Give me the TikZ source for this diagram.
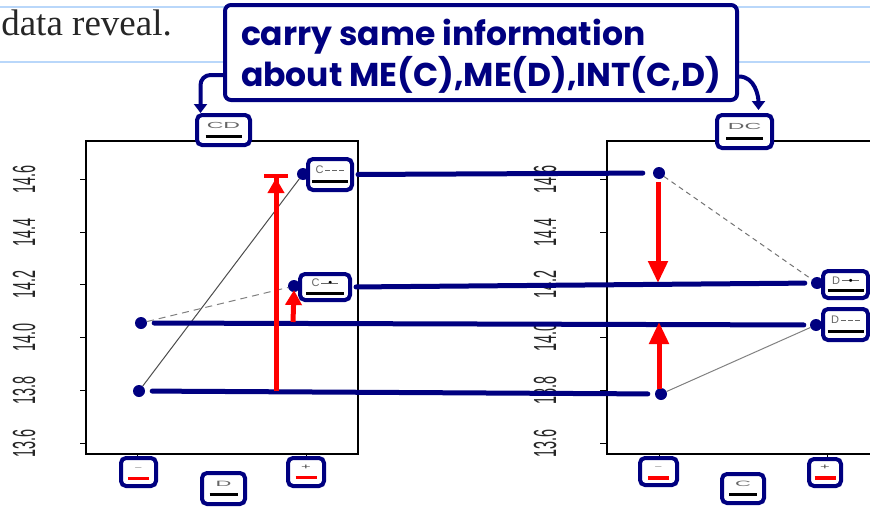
\documentclass[tikz,border=0pt]{standalone}
\usepackage{fontspec}
\setmainfont{Liberation Serif}
\newfontfamily\axisfont{Liberation Sans}
\newfontfamily\handfont{Poppins}
\usetikzlibrary{arrows.meta}
\definecolor{ink}{RGB}{0,0,128}
\definecolor{pen}{RGB}{255,0,0}
\definecolor{ruled}{RGB}{185,215,250}
\tikzstyle{ruling} = [draw=ruled, line width=1.5pt]
\tikzstyle{prose} = [anchor=base east, inner sep=0pt, text=black!85, font=\fontsize{37}{37}\selectfont]
\tikzstyle{frame} = [draw=black, line width=1.2pt]
\tikzstyle{tick} = [draw=black, line width=1pt]
\tikzstyle{ticklabel} = [rotate=90, inner sep=0pt, text=black!85, font=\axisfont\fontsize{32}{32}\selectfont]
\tikzstyle{mean} = [circle, fill=ink, minimum size=12pt, inner sep=0pt]
\tikzstyle{trace} = [draw=black!70, line width=1pt]
\tikzstyle{link} = [draw=ink, line width=5pt, line cap=round]
\tikzstyle{effect} = [draw=pen, line width=5pt, -{Triangle[length=22pt,width=19pt]}]
\tikzstyle{tag} = [draw=ink, line width=4pt, rounded corners=5pt, fill=white, inner sep=0pt,
align=center, font=\axisfont\fontsize{11}{12}\selectfont]
\tikzstyle{note} = [draw=ink, line width=4pt, rounded corners=6pt, fill=white, align=left,
text=ink, minimum width=512pt, minimum height=95pt,
font=\handfont\bfseries\fontsize{33}{41}\selectfont]
\tikzstyle{pointer} = [draw=ink, line width=4pt, -{Triangle[length=9pt,width=13pt]}]

\newcommand{\ticktext}[1]{\scalebox{0.45}[1]{#1}}
\newcommand{\dashsample}{\textcolor{black!60}{\rule[3pt]{5pt}{1pt}\hspace{2pt}\rule[3pt]{5pt}{1pt}\hspace{2pt}\rule[3pt]{5pt}{1pt}}}
\newcommand{\dotsample}{\textcolor{black!60}{\rule[3pt]{8pt}{1pt}}\kern-1pt\textbullet\kern-1pt\textcolor{black!60}{\rule[3pt]{7pt}{1pt}}}
\newcommand{\thickbar}[1]{\rule{#1}{3pt}}
\newcommand{\redbar}{\textcolor{pen}{\rule{21pt}{3.5pt}}}

\begin{document}
\begin{tikzpicture}[x=1pt, y=-1pt]
	\useasboundingbox (0,0) rectangle (870,506);

	\draw [ruling] (0,7) -- (870,7);
	\draw [ruling] (0,62) -- (870,62);
	\node [prose] (prose) at (172,35) {data reveal.};

	% left panel: D on the axis, C as trace
	\draw [frame] (86,141) rectangle (358,454);
	\draw [tick] (80,179) -- (86,179);
	\draw [tick] (80,232) -- (86,232);
	\draw [tick] (80,284) -- (86,284);
	\draw [tick] (80,337) -- (86,337);
	\draw [tick] (80,390) -- (86,390);
	\draw [tick] (80,443) -- (86,443);
	\draw [tick] (137,454) -- (137,459);
	\draw [tick] (306,454) -- (306,459);
	\node [ticklabel] (l146) at (24,179) {\ticktext{14.6}};
	\node [ticklabel] (l144) at (24,232) {\ticktext{14.4}};
	\node [ticklabel] (l142) at (24,284) {\ticktext{14.2}};
	\node [ticklabel] (l140) at (24,337) {\ticktext{14.0}};
	\node [ticklabel] (l138) at (24,390) {\ticktext{13.8}};
	\node [ticklabel] (l136) at (24,443) {\ticktext{13.6}};

	% right panel: C on the axis, D as trace
	\draw [frame] (870,141) -- (607,141) -- (607,454) -- (870,454);
	\draw [tick] (600,179) -- (607,179);
	\draw [tick] (600,232) -- (607,232);
	\draw [tick] (600,284) -- (607,284);
	\draw [tick] (600,337) -- (607,337);
	\draw [tick] (600,390) -- (607,390);
	\draw [tick] (600,443) -- (607,443);
	\draw [tick] (659,454) -- (659,459);
	\draw [tick] (827,454) -- (827,459);
	\node [ticklabel] (r146) at (545,179) {\ticktext{14.6}};
	\node [ticklabel] (r144) at (545,232) {\ticktext{14.4}};
	\node [ticklabel] (r142) at (545,284) {\ticktext{14.2}};
	\node [ticklabel] (r140) at (545,337) {\ticktext{14.0}};
	\node [ticklabel] (r138) at (545,390) {\ticktext{13.8}};
	\node [ticklabel] (r136) at (545,443) {\ticktext{13.6}};

	\node [mean] (l1) at (141,323) {};
	\node [mean] (l2) at (139,391) {};
	\node [mean] (l3) at (303,174) {};
	\node [mean] (l4) at (294,286) {};
	\node [mean] (r1) at (659,173) {};
	\node [mean] (r2) at (661,394) {};
	\node [mean] (r3) at (817,283) {};
	\node [mean] (r4) at (816,325) {};

	\draw [trace] (l2) -- (l3);
	\draw [trace, dash pattern=on 7pt off 5pt, draw=black!50] (l1) -- (l4);
	\draw [trace, dash pattern=on 5pt off 4pt, draw=black!55] (r1) -- (r3);
	\draw [trace, draw=black!50] (r2) -- (r4);

	% legend pieces and level labels
	\node [tag, minimum width=53pt, minimum height=30pt] (cd) at (223.5,130) {\textcolor{black!60}{\scalebox{2.1}[0.8]{CD}}\\[-2pt]\thickbar{36pt}};
	\node [tag, minimum width=55pt, minimum height=33pt] (dc) at (744.5,131.5) {\textcolor{black!60}{\scalebox{2.1}[0.8]{DC}}\\[-2pt]\thickbar{37pt}};
	\node [tag, minimum width=44pt, minimum height=31pt] (cm) at (330,174.5) {\textcolor{black!60}{C}\,\dashsample\\[-3pt]\thickbar{36pt}};
	\node [tag, minimum width=50pt, minimum height=26pt] (cp) at (325,287) {\textcolor{black!60}{C}\,\dotsample\\[-4pt]\thickbar{38pt}};
	\node [tag, minimum width=45pt, minimum height=27pt] (dp) at (845.5,284.5) {\textcolor{black!60}{D}\,\dotsample\\[-4pt]\thickbar{36pt}};
	\node [tag, minimum width=45pt, minimum height=31pt] (dm) at (845.5,324.5) {\textcolor{black!60}{D}\,\dashsample\\[-3pt]\thickbar{36pt}};

	\node [tag, minimum width=35pt, minimum height=28pt] (dlo) at (138.5,472) {\textcolor{black!60}{$-$}\\[-2pt]\redbar};
	\node [tag, minimum width=36pt, minimum height=28pt] (dhi) at (306,472) {\textcolor{black!70}{\scalebox{1.5}[0.7]{+}}\\[-2pt]\redbar};
	\node [tag, minimum width=43pt, minimum height=31pt] (dname) at (223.5,488.5) {\textcolor{black!60}{\scalebox{2}[0.7]{D}}\\[-3pt]\thickbar{28pt}};
	\node [tag, minimum width=37pt, minimum height=27pt] (clo) at (658.5,471.5) {\textcolor{black!60}{$-$}\\[-2pt]\redbar};
	\node [tag, minimum width=32pt, minimum height=27pt] (chi) at (825,472.5) {\textcolor{black!70}{\scalebox{1.5}[0.7]{+}}\\[-2pt]\redbar};
	\node [tag, minimum width=42pt, minimum height=29pt] (cname) at (743,488.5) {\textcolor{black!60}{\scalebox{2}[0.7]{C}}\\[-3pt]\thickbar{28pt}};

	% same cell means in both panels
	\draw [link, shorten <=4pt, shorten >=10pt] (cm.east) -- (r1);
	\draw [link, shorten <=4pt, shorten >=6pt] (cp.east) -- (r3);
	\draw [link, shorten <=7pt, shorten >=6pt] (l1) -- (r4);
	\draw [link, shorten <=7pt, shorten >=7pt] (l2) -- (r2);

	% effects
	\coordinate (bigfrom) at (276,391);
	\coordinate (bigto) at (276,174);
	\coordinate (smallfrom) at (293,322);
	\coordinate (smallto) at (294,290);
	\coordinate (downfrom) at (658,182);
	\coordinate (downto) at (658,283);
	\coordinate (upfrom) at (659,389);
	\coordinate (upto) at (659,322);
	\draw [effect, -{Triangle[length=15pt,width=16pt] Bar[width=24pt,line width=4pt]}] (bigfrom) -- (bigto);
	\draw [effect, -{Triangle[length=15pt,width=16pt]}] (smallfrom) -- (smallto);
	\draw [effect] (downfrom) -- (downto);
	\draw [effect] (upfrom) -- (upto);

	\node [note] (note) at (481,52.5) {\rule{0pt}{33pt}carry same information\\about ME(C),ME(D),INT(C,D)};
	\draw [pointer, rounded corners=10pt] ([yshift=-22.5pt]note.west) -| ([xshift=-23pt]cd.north);
	\draw [pointer, shorten >=3pt] ([yshift=-24pt]note.east) to[out=0, in=90] ([xshift=14pt]dc.north);

\end{tikzpicture}
\end{document}
